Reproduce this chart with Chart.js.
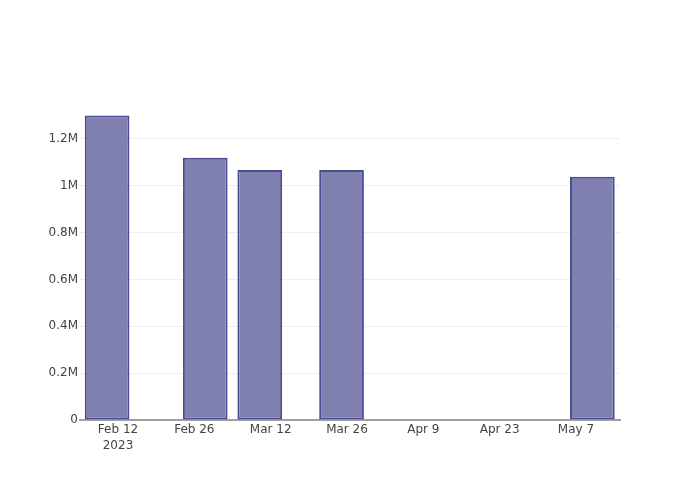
<!DOCTYPE html>
<html>
<head>
<meta charset="utf-8">
<script src="https://cdn.jsdelivr.net/npm/chart.js@4/dist/chart.umd.min.js"></script>
<style>
  html, body { margin: 0; padding: 0; background: #fff; }
  #wrap { width: 700px; height: 500px; }
</style>
</head>
<body>
<div id="wrap"><canvas id="myChart" width="700" height="500"></canvas></div>
<script>
// data
const barDates = ["2023-02-10", "2023-02-28", "2023-03-10", "2023-03-25", "2023-05-10"];
const barValues = [1300000, 1120000, 1067000, 1067000, 1038000];
const tickDates = ["2023-02-12", "2023-02-26", "2023-03-12", "2023-03-26", "2023-04-09", "2023-04-23", "2023-05-07"];
const tickLabels = [["Feb 12", "2023"], "Feb 26", "Mar 12", "Mar 26", "Apr 9", "Apr 23", "May 7"];
const yTicks = [0, 200000, 400000, 600000, 800000, 1000000, 1200000];

const origin = Date.parse("2023-02-12");
const day = (d) => (Date.parse(d) - origin) / 86400000;

const tickDays = tickDates.map(day);
const fontFamily = "'DejaVu Sans', sans-serif";
const yMax = 1366000;

var ctx = document.getElementById("myChart").getContext("2d");
var myChart = new Chart(ctx, {
  type: "bar",
  data: {
    datasets: [
      {
        data: barDates.map((d, i) => ({ x: day(d), y: barValues[i] })),
        backgroundColor: "rgba(127, 127, 176, 1)",
        borderColor: "rgba(76, 76, 148, 1)",
        borderWidth: 2,
        borderSkipped: false,
        barPercentage: 0.82,
        categoryPercentage: 1,
      },
    ],
  },
  options: {
    responsive: false,
    animation: false,
    layout: { padding: { top: 100, right: 80, left: 0, bottom: 0 } },
    plugins: { legend: { display: false }, tooltip: { enabled: false } },
    scales: {
      x: {
        type: "linear",
        bounds: "data",
        offset: false,
        min: -6.97,
        max: 92.07,
        afterBuildTicks: (scale) => {
          scale.ticks = tickDays.map((v) => ({ value: v }));
        },
        afterFit: (scale) => { scale.height = 80; },
        grid: { display: false, drawTicks: false },
        border: { display: true, color: "#a0a0a0", width: 2 },
        ticks: {
          autoSkip: false,
          maxRotation: 0,
          padding: 2,
          color: "#444",
          font: { family: fontFamily, size: 12, lineHeight: 1.35 },
          callback: (v) => {
            const i = tickDays.indexOf(v);
            return i >= 0 ? tickLabels[i] : "";
          },
        },
      },
      y: {
        bounds: "data",
        min: 0,
        max: yMax,
        afterBuildTicks: (scale) => {
          scale.min = 0;
          scale.max = yMax;
          scale.ticks = yTicks.map((v) => ({ value: v }));
        },
        afterFit: (scale) => { scale.width = 80; },
        grid: { color: "#eeeeee", drawTicks: false },
        border: { display: false },
        ticks: {
          padding: 2,
          color: "#444",
          font: { family: fontFamily, size: 12 },
          callback: (v) => (v === 0 ? "0" : +(v / 1e6).toFixed(1) + "M"),
        },
      },
    },
  },
});
</script>
</body>
</html>
